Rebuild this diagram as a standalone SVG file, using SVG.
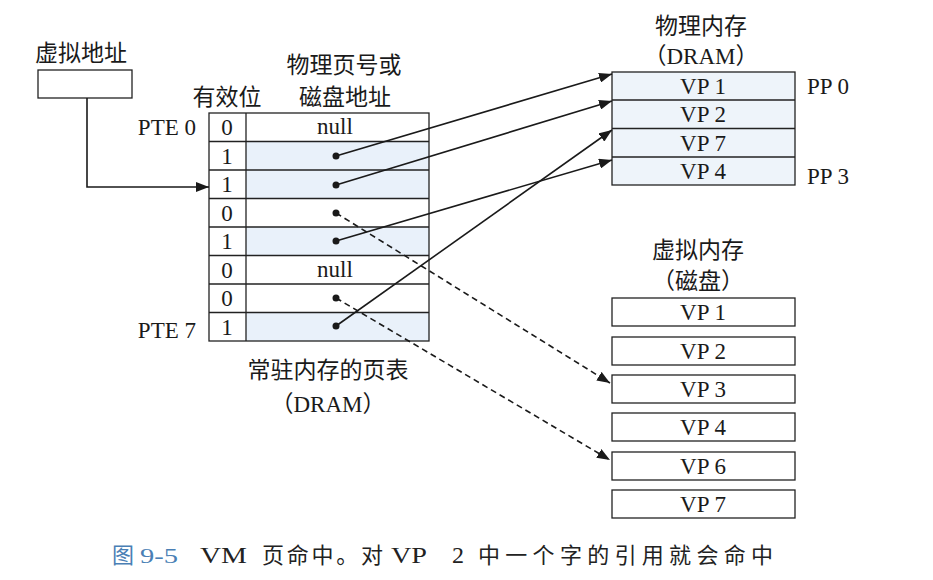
<svg xmlns="http://www.w3.org/2000/svg" width="933" height="580" viewBox="0 0 933 580">
<style>
.t{font-family:"Liberation Serif","Noto Sans CJK SC",serif;fill:#1a1a1a}
.c{font-family:"Noto Sans CJK SC","Liberation Serif",sans-serif;fill:#1a1a1a}
.box{fill:#ffffff;stroke:#222;stroke-width:1.3}
.shade{fill:#e9f1fa;stroke:none}
.ln{stroke:#222;stroke-width:1.3;fill:none}
.conn{stroke:#1a1a1a;stroke-width:1.6;fill:none}
.dash{stroke-dasharray:6 4}
.dot{fill:#1a1a1a}
</style>
<defs>
<marker id="ah" markerUnits="userSpaceOnUse" markerWidth="14" markerHeight="10" refX="13" refY="5" orient="auto">
<path d="M0,0 L13,5 L0,10 Z" fill="#1a1a1a"/>
</marker>
</defs>
<rect width="933" height="580" fill="#ffffff"/>

<g id="vaddr">
<text class="c" x="35" y="61" font-size="23">虚拟地址</text>
<rect class="box" x="38" y="70" width="94" height="28"/>
</g>

<g id="pagetable">
<text class="c" x="227" y="105" font-size="23" text-anchor="middle">有效位</text>
<text class="c" x="344" y="73" font-size="23" text-anchor="middle">物理页号或</text>
<text class="c" x="345" y="105" font-size="23" text-anchor="middle">磁盘地址</text>
<rect class="shade" x="246" y="141.5" width="183" height="57"/>
<rect class="shade" x="246" y="227" width="183" height="28.5"/>
<rect class="shade" x="246" y="312.5" width="183" height="28.5"/>
<rect x="209" y="113" width="220" height="228" fill="none" stroke="#222" stroke-width="1.3"/>
<line class="ln" x1="246" y1="113" x2="246" y2="341"/>
<line class="ln" x1="209" y1="141.5" x2="429" y2="141.5"/>
<line class="ln" x1="209" y1="170" x2="429" y2="170"/>
<line class="ln" x1="209" y1="198.5" x2="429" y2="198.5"/>
<line class="ln" x1="209" y1="227" x2="429" y2="227"/>
<line class="ln" x1="209" y1="255.5" x2="429" y2="255.5"/>
<line class="ln" x1="209" y1="284" x2="429" y2="284"/>
<line class="ln" x1="209" y1="312.5" x2="429" y2="312.5"/>
<text class="t" x="196" y="135" font-size="23" text-anchor="end">PTE 0</text>
<text class="t" x="196" y="338" font-size="23" text-anchor="end">PTE 7</text>
<g class="t" font-size="23" text-anchor="middle">
<text x="227" y="135">0</text>
<text x="227" y="164">1</text>
<text x="227" y="192">1</text>
<text x="227" y="221">0</text>
<text x="227" y="249">1</text>
<text x="227" y="278">0</text>
<text x="227" y="306">0</text>
<text x="227" y="335">1</text>
<text x="335" y="134">null</text>
<text x="335" y="277">null</text>
</g>
<circle class="dot" cx="336" cy="156" r="3.5"/>
<circle class="dot" cx="336" cy="185" r="3.5"/>
<circle class="dot" cx="336" cy="213" r="3.5"/>
<circle class="dot" cx="336" cy="241" r="3.5"/>
<circle class="dot" cx="336" cy="298" r="3.5"/>
<circle class="dot" cx="336" cy="326" r="3.5"/>
<text class="c" x="328" y="378" font-size="23" text-anchor="middle">常驻内存的页表</text>
<text class="t" x="328" y="412" font-size="23" text-anchor="middle">（DRAM）</text>
</g>

<g id="physmem">
<text class="c" x="701" y="34" font-size="23" text-anchor="middle">物理内存</text>
<text class="t" x="701" y="64" font-size="23" text-anchor="middle">（DRAM）</text>
<rect x="612" y="72" width="183" height="113" fill="#eef4fa" stroke="#222" stroke-width="1.3"/>
<line class="ln" x1="612" y1="100" x2="795" y2="100"/>
<line class="ln" x1="612" y1="128.5" x2="795" y2="128.5"/>
<line class="ln" x1="612" y1="157" x2="795" y2="157"/>
<g class="t" font-size="23" text-anchor="middle">
<text x="703" y="94">VP 1</text>
<text x="703" y="122">VP 2</text>
<text x="703" y="151">VP 7</text>
<text x="703" y="179">VP 4</text>
</g>
<text class="t" x="807" y="94" font-size="23">PP 0</text>
<text class="t" x="807" y="184" font-size="23">PP 3</text>
</g>

<g id="virtmem">
<text class="c" x="698" y="258" font-size="23" text-anchor="middle">虚拟内存</text>
<text class="c" x="698" y="289" font-size="23" text-anchor="middle">（磁盘）</text>
<rect class="box" x="612" y="298" width="183" height="28"/>
<rect class="box" x="612" y="337" width="183" height="28"/>
<rect class="box" x="612" y="375" width="183" height="28"/>
<rect class="box" x="612" y="413" width="183" height="28"/>
<rect class="box" x="612" y="452" width="183" height="28"/>
<rect class="box" x="612" y="490" width="183" height="28"/>
<g class="t" font-size="23" text-anchor="middle">
<text x="703" y="320">VP 1</text>
<text x="703" y="359">VP 2</text>
<text x="703" y="397">VP 3</text>
<text x="703" y="435">VP 4</text>
<text x="703" y="474">VP 6</text>
<text x="703" y="512">VP 7</text>
</g>
</g>

<g id="connectors">
<path class="conn" d="M87,98 V187 H209" marker-end="url(#ah)"/>
<line class="conn" x1="336" y1="156" x2="612" y2="74" marker-end="url(#ah)"/>
<line class="conn" x1="336" y1="185" x2="612" y2="101" marker-end="url(#ah)"/>
<line class="conn" x1="336" y1="241" x2="612" y2="160" marker-end="url(#ah)"/>
<line class="conn" x1="336" y1="326" x2="612" y2="130" marker-end="url(#ah)"/>
<line class="conn dash" x1="336" y1="213" x2="610" y2="383" marker-end="url(#ah)"/>
<line class="conn dash" x1="336" y1="298" x2="610" y2="460" marker-end="url(#ah)"/>
</g>

<g id="caption">
<text class="c" x="112" y="563" font-size="22" style="fill:#4a7fb5">图</text>
<text class="t" x="140" y="563" font-size="22" textLength="38" lengthAdjust="spacingAndGlyphs" style="fill:#4a7fb5">9-5</text>
<text class="t" x="200" y="563" font-size="24" textLength="47" lengthAdjust="spacingAndGlyphs" style="fill:#222">VM</text>
<text class="c" x="262" y="563" font-size="22" textLength="121" lengthAdjust="spacing" style="fill:#222">页命中。对</text>
<text class="t" x="391" y="563" font-size="24" textLength="36" lengthAdjust="spacingAndGlyphs" style="fill:#222">VP</text>
<text class="t" x="452" y="563" font-size="24" style="fill:#222">2</text>
<text class="c" x="478" y="563" font-size="22" textLength="295" lengthAdjust="spacing" style="fill:#222">中一个字的引用就会命中</text>
</g>
</svg>
